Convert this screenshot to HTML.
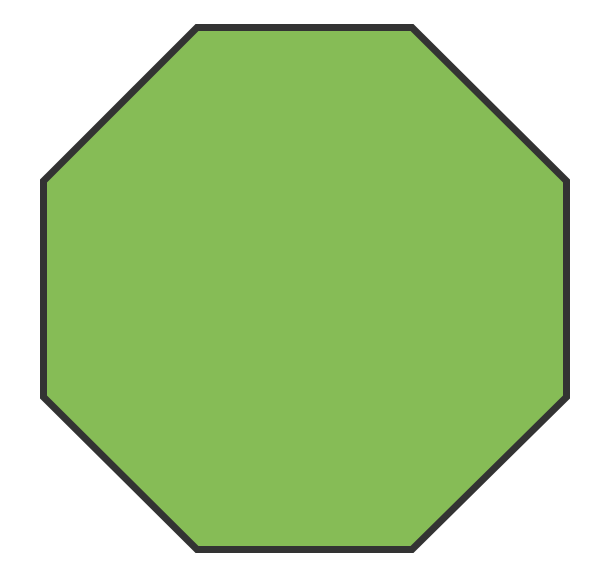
<!DOCTYPE html>
<html><head><meta charset="utf-8"><style>html,body{margin:0;padding:0;background:#fff;width:610px;height:572px;overflow:hidden}</style></head>
<body>
<svg width="610" height="572" viewBox="0 0 610 572">
<polygon points="197,27.5 412,27.5 566.5,181 566.5,397 412,549.5 197,549.5 43.5,397 43.5,181" fill="#86bc56" stroke="#333333" stroke-width="7" stroke-linejoin="miter"/>
</svg>
</body></html>
